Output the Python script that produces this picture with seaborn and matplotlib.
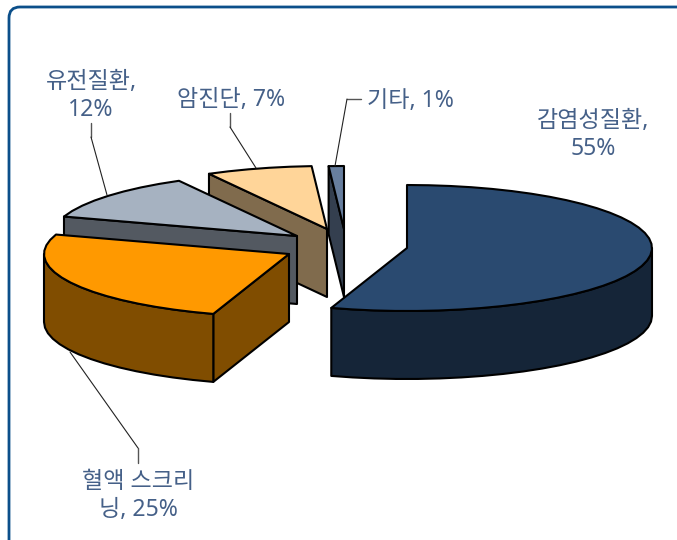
import numpy as np
import matplotlib
matplotlib.use("Agg")
import matplotlib.pyplot as plt
from matplotlib.patches import FancyBboxPatch, Polygon
import seaborn as sns

# Share of each category, in percent, clockwise from twelve o'clock
categories = ["감염성질환", "혈액 스크리닝", "유전질환", "암진단", "기타"]
shares = [55, 25, 12, 7, 1]
top_colors = ["#2A4A70", "#FF9900", "#A6B2C1", "#FFD599", "#677E9E"]

# Centre of each exploded slice on the canvas
slice_centers = [(407, 248), (289, 254), (297, 236), (327, 229), (344, 229)]
label_text = ["감염성질환,\n55%", "혈액 스크리\n닝, 25%", "유전질환,\n12%", "암진단, 7%", "기타, 1%"]
label_xy = [(593, 135), (138, 496), (91, 96), (231, 100), (410, 101)]
leaders = [None,
           [(138, 463), (138, 448), (70, 352)],
           [(91, 123), (91, 137), (107, 195)],
           [(230, 113), (230, 127), (256, 168)],
           [(361, 99), (347, 99), (335, 166)]]
draw_order = [4, 3, 2, 1, 0]

RX, RY, DEPTH = 245, 63, 68
TEXT = "#456088"
FRAME = "#0B4F8A"

sns.set_theme(style="white")
plt.rcParams["font.family"] = ["Noto Sans", "Noto Sans CJK KR", "DejaVu Sans"]

fig = plt.figure(figsize=(6.77, 5.40), dpi=100)
ax = fig.add_axes([0, 0, 1, 1])
ax.set_xlim(0, 677)
ax.set_ylim(540, 0)
ax.axis("off")

ax.add_patch(FancyBboxPatch((9, 7), 720, 600, boxstyle="round,pad=0,rounding_size=11",
                            fc="white", ec=FRAME, lw=2.0, zorder=0))

edges = np.concatenate([[0], np.cumsum(shares)]) * 3.6
palette = sns.color_palette(top_colors)


def rim(center, a, b, step=5.0):
    """Points along the top ellipse from angle a to b (degrees, clockwise from north)."""
    n = max(2, int(abs(b - a) / step) + 1)
    t = np.radians(np.linspace(a, b, n))
    return np.column_stack([center[0] + RX * np.sin(t), center[1] - RY * np.cos(t)])


outline = dict(ec="black", lw=1.5, joinstyle="round")
z = 1
for i in draw_order:
    c = slice_centers[i]
    a, b = edges[i], edges[i + 1]
    top = palette[i]
    side = tuple(v * 0.5 for v in top)

    # Radial wall on the leading edge, shown when it turns towards the viewer
    if np.sin(np.radians(a)) < -1e-6:
        p = rim(c, a, a)[0]
        wall = [c, p, (p[0], p[1] + DEPTH), (c[0], c[1] + DEPTH)]
        ax.add_patch(Polygon(wall, closed=True, fc=side, zorder=z, **outline))
        z += 1

    # Outer wall across the front half of the ellipse
    lo, hi = max(a, 90), min(b, 270)
    if lo < hi:
        arc = rim(c, lo, hi)
        wall = np.vstack([arc, arc[::-1] + [0, DEPTH]])
        ax.add_patch(Polygon(wall, closed=True, fc=side, zorder=z, **outline))
        z += 1

    # Top face
    face = np.vstack([[c], rim(c, a, b)])
    ax.add_patch(Polygon(face, closed=True, fc=top, zorder=z, **outline))
    z += 1

for txt, (x, y), path in zip(label_text, label_xy, leaders):
    ax.text(x, y, txt, ha="center", va="center", fontsize=16.6, color=TEXT,
            linespacing=1.18, zorder=z)
    if path:
        pts = np.array(path)
        ax.plot(pts[:2, 0], pts[:2, 1], color="#555555", lw=1.0, zorder=z)
        ax.plot(pts[1:, 0], pts[1:, 1], color="#222222", lw=0.8, zorder=z)

fig.savefig("out.png", dpi=100, facecolor="white")
